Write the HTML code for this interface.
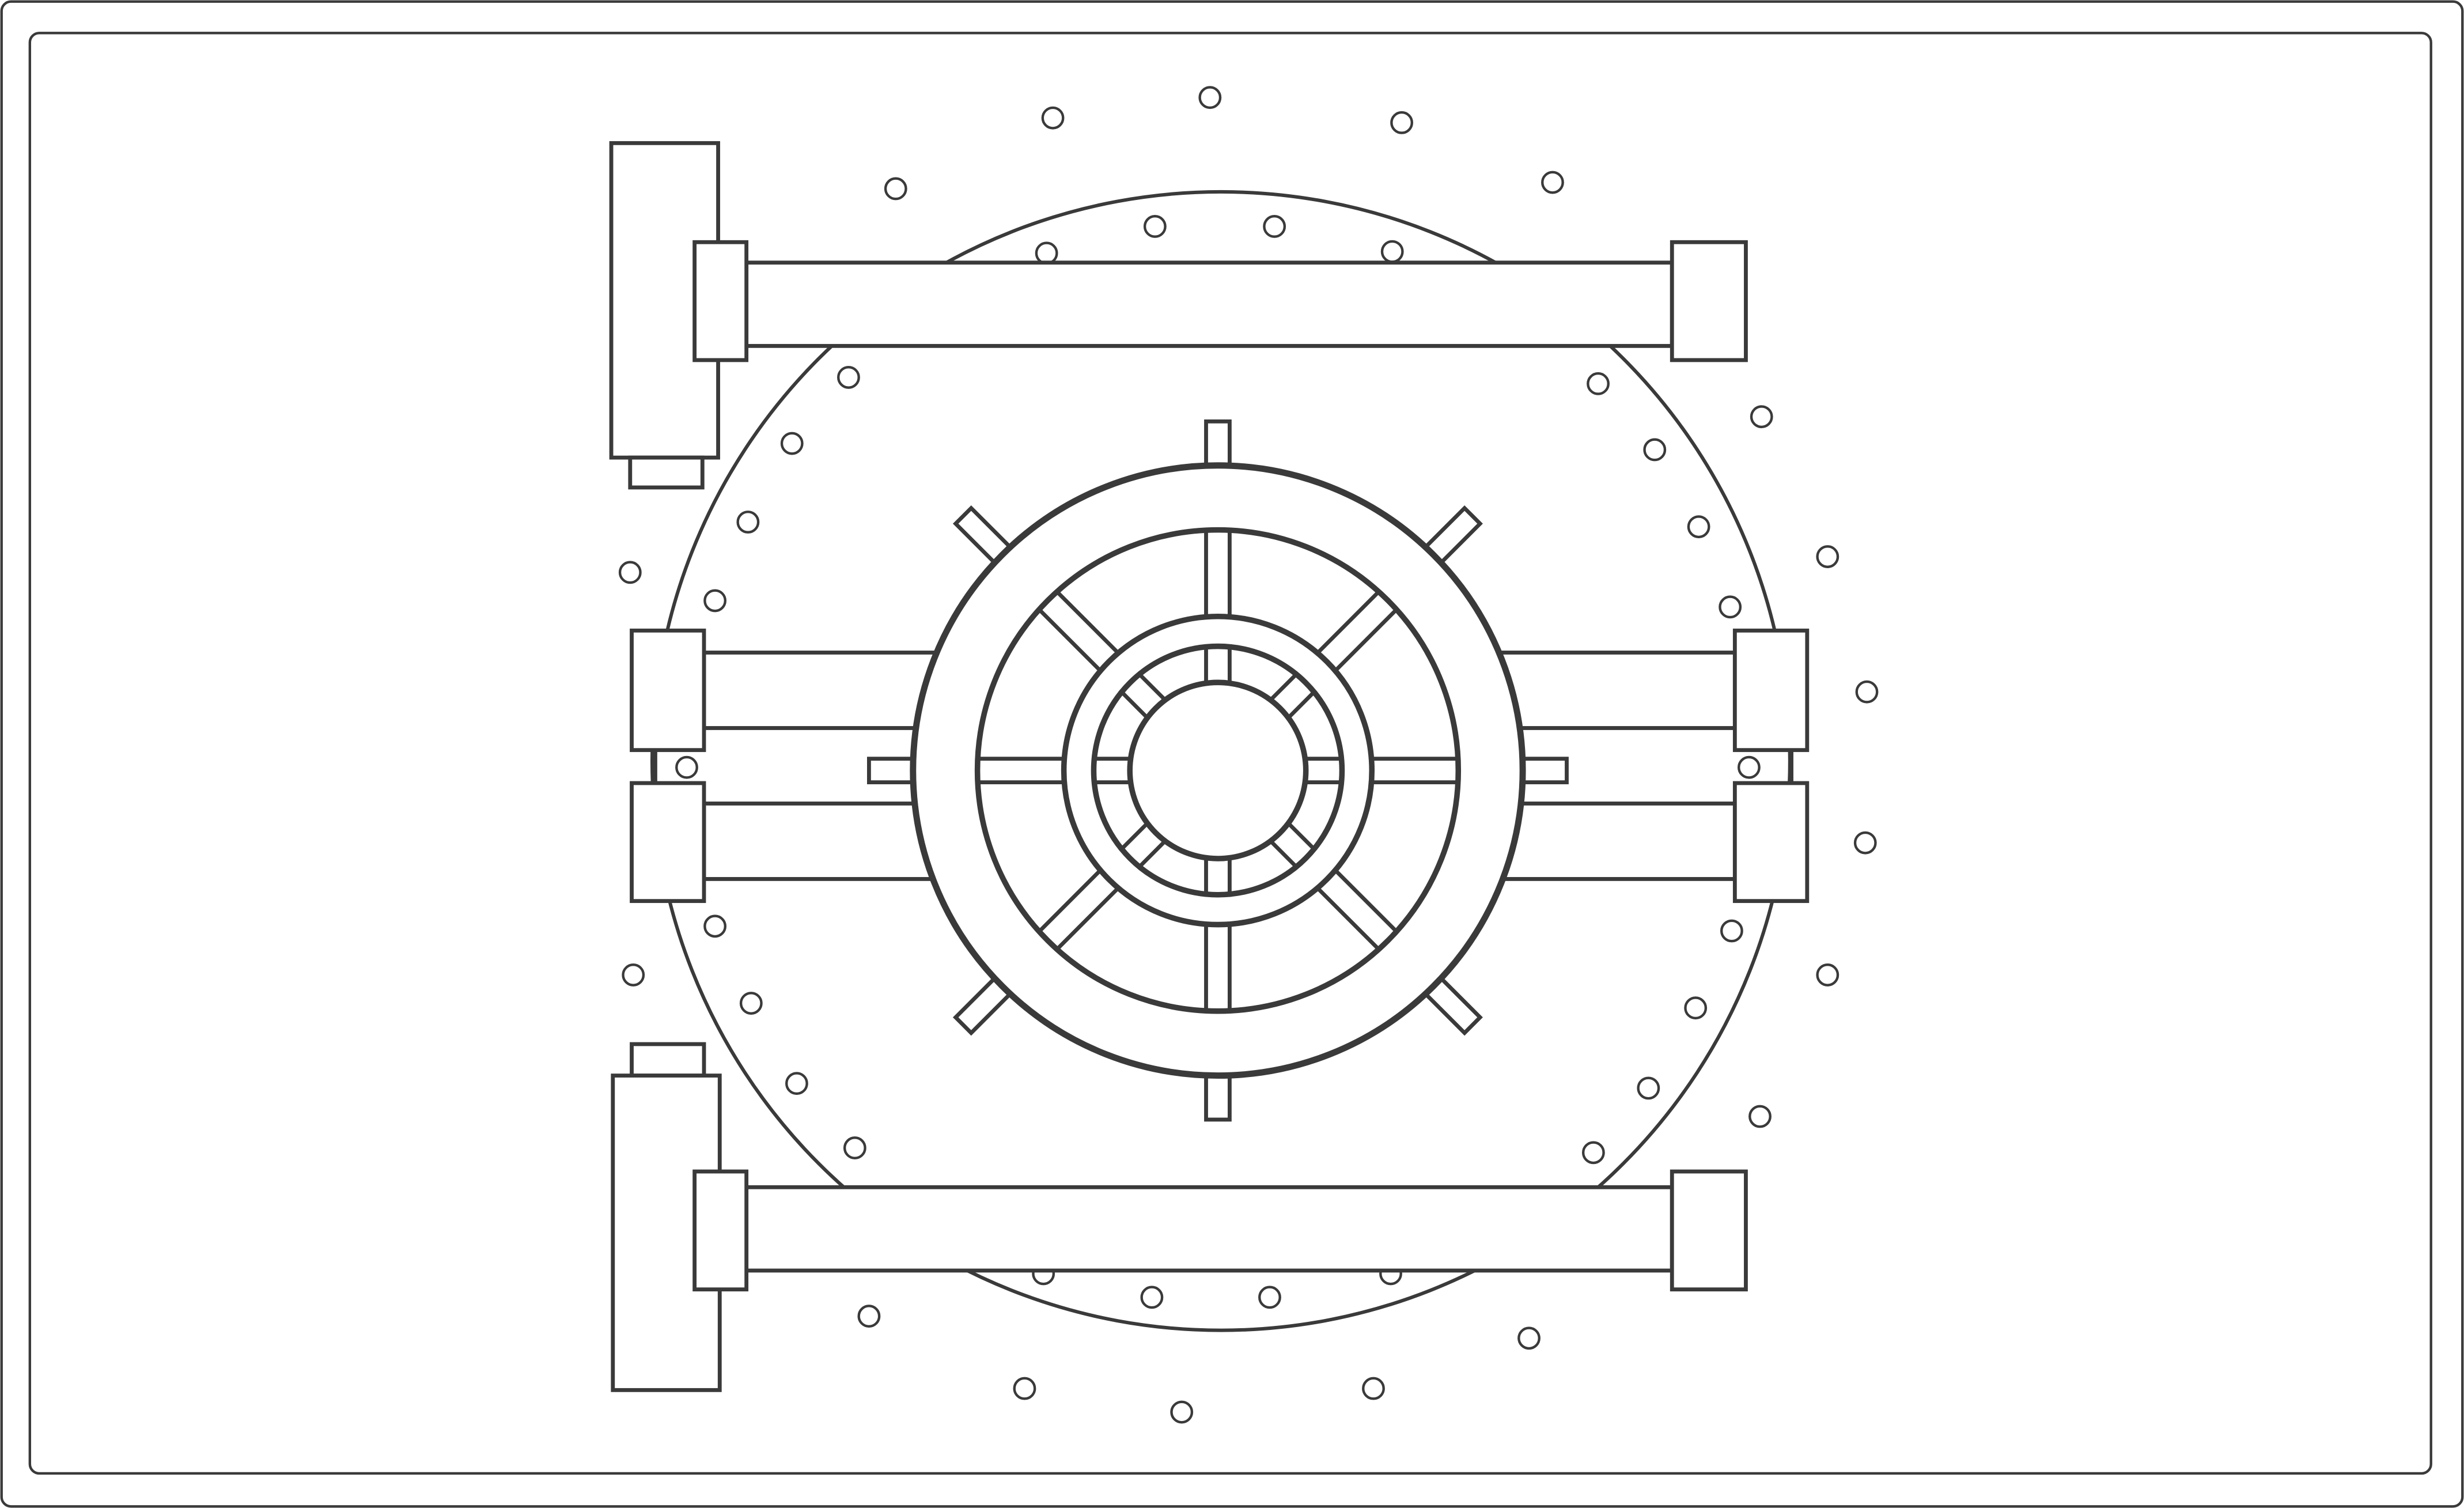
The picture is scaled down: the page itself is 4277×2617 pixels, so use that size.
<!DOCTYPE html>
<html><head><meta charset="utf-8"><style>
html,body{margin:0;padding:0;background:#fff}
svg{display:block}
</style></head><body>
<svg id="s" width="4277" height="2617" viewBox="0 0 1568 959" preserveAspectRatio="none" xmlns="http://www.w3.org/2000/svg">
<g fill="#fff" stroke="#3a3a3a" stroke-width="1.6">
<rect x="1" y="1" width="1566" height="957" rx="6"/>
<rect x="19" y="21" width="1528" height="916" rx="6"/>
<circle cx="777" cy="484" r="362" stroke-width="2.2"/>
<g id="dots"></g>
<g stroke-width="2.5">
<rect x="389" y="91" width="68" height="200"/><rect x="401" y="291" width="46" height="19"/>
<rect x="475" y="167" width="589" height="53"/>
<rect x="442" y="154" width="33" height="75"/><rect x="1064" y="154" width="47" height="75"/>
</g>
<g stroke-width="2.5">
<rect x="402" y="664" width="46" height="20"/><rect x="390" y="684" width="68" height="200"/>
<rect x="475" y="755" width="589" height="53"/>
<rect x="442" y="745" width="33" height="75"/><rect x="1064" y="745" width="47" height="75"/>
</g>
<g stroke-width="2.5">
<line x1="417" y1="477" x2="417" y2="498"/><line x1="1140" y1="477" x2="1140" y2="498"/>
<rect x="448" y="415" width="160" height="48"/><rect x="448" y="511" width="150" height="48"/>
<rect x="945" y="415" width="159" height="48"/><rect x="955" y="511" width="149" height="48"/>
<rect x="402" y="401" width="46" height="76"/><rect x="402" y="498" width="46" height="75"/>
<rect x="1104" y="401" width="46" height="76"/><rect x="1104" y="498" width="46" height="75"/>
</g>
<g id="wheel" stroke-width="2.5"></g>
</g>
<script>
const NS='http://www.w3.org/2000/svg';
const dotsG=document.getElementById('dots');
const dots=[[770,62],[670,75],[892,78],[570,120],[988,116],[1121,265],[1163,354],[1188,440],[1187,536],[1163,620],[1120,710],[973,851],[874,883],[752,898],[652,883],[553,837],[403,620],[401,364],
[666,161],[735,144],[811,144],[886,160],[540,240],[504,282],[476,332],[455,382],[437,488],[455,589],[478,638],[507,689],[544,730],[664,810],[733,825],[808,825],[885,810],[1017,244],[1053,286],[1081,335],[1101,386],[1113,488],[1102,592],[1079,641],[1049,692],[1014,733]];
dots.forEach(d=>{const c=document.createElementNS(NS,'circle');


c.setAttribute('cx',d[0]);c.setAttribute('cy',d[1]);c.setAttribute('r',6.5);dotsG.appendChild(c);});
const W=document.getElementById('wheel');const cx=775,cy=490;
function circ(r,sw){const c=document.createElementNS(NS,'circle');


c.setAttribute('cx',cx);c.setAttribute('cy',cy);c.setAttribute('r',r);c.setAttribute('stroke-width',sw);W.appendChild(c);}
function spoke(a,r1,r2,w){const g=document.createElementNS(NS,'rect');


g.setAttribute('x',cx+r1);g.setAttribute('y',cy-w/2);g.setAttribute('width',r2-r1);g.setAttribute('height',w);
g.setAttribute('fill','none');g.setAttribute('transform','rotate('+a+' '+cx+' '+cy+')');W.appendChild(g);}
const angles=[0,45,90,135,180,225,270,315];
circ(194,4);
angles.forEach(a=>spoke(a,194,a%90?229:222,a%90?14:15));
circ(153,3.5);
angles.forEach(a=>spoke(a,98,153,a%90?16:15));
circ(98,3.5);circ(79,3.5);
angles.forEach(a=>spoke(a,56,79,a%90?16:15));
circ(56,3.5);
</script>
</svg>
</body></html>
